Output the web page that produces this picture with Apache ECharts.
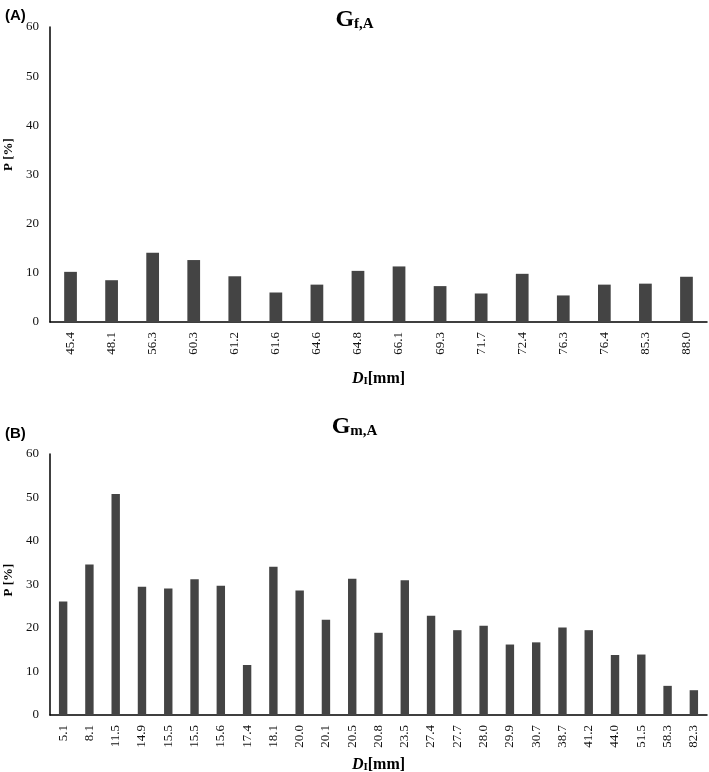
<!DOCTYPE html>
<html>
<head>
<meta charset="utf-8">
<script src="https://cdn.jsdelivr.net/npm/echarts@6/dist/echarts.min.js"></script>
<style>
html,body{margin:0;padding:0;background:#fff;}
#chart{width:709px;height:772px;}
</style>
</head>
<body>
<div id="chart"></div>
<script>
// Panel A: G_f,A
const categoriesA = ['45.4','48.1','56.3','60.3','61.2','61.6','64.6','64.8','66.1','69.3','71.7','72.4','76.3','76.4','85.3','88.0'];
const valuesA = [10.2, 8.5, 14.1, 12.6, 9.3, 6.0, 7.6, 10.4, 11.3, 7.3, 5.8, 9.8, 5.4, 7.6, 7.8, 9.2];
// Panel B: G_m,A
const categoriesB = ['5.1','8.1','11.5','14.9','15.5','15.5','15.6','17.4','18.1','20.0','20.1','20.5','20.8','23.5','27.4','27.7','28.0','29.9','30.7','38.7','41.2','44.0','51.5','58.3','82.3'];
const valuesB = [26.1, 34.6, 50.8, 29.5, 29.1, 31.2, 29.7, 11.5, 34.1, 28.6, 21.9, 31.3, 18.9, 31.0, 22.8, 19.5, 20.5, 16.2, 16.7, 20.1, 19.5, 13.8, 13.9, 6.7, 5.7];
// Axis ticks
const yTicks = {min: 0, max: 60, interval: 10};

const serif = '"Liberation Serif", "DejaVu Serif", serif';
const sans = '"Liberation Sans", Arial, sans-serif';
const barColor = '#444444';

const chart = echarts.init(document.getElementById('chart'), null, {renderer: 'canvas'});

function titleRich() {
  return {
    g: {fontFamily: serif, fontWeight: 'bold', fontSize: 24, color: '#000', verticalAlign: 'bottom', lineHeight: 26},
    s: {fontFamily: serif, fontWeight: 'bold', fontSize: 15, color: '#000', verticalAlign: 'bottom', lineHeight: 20, padding: [6, 0, 0, 0]}
  };
}
function xNameRich() {
  return {
    d: {fontFamily: serif, fontWeight: 'bold', fontStyle: 'italic', fontSize: 16, color: '#000', verticalAlign: 'bottom', lineHeight: 18},
    s: {fontFamily: serif, fontWeight: 'bold', fontSize: 11, color: '#000', verticalAlign: 'bottom', lineHeight: 14, padding: [4, 0, 0, 0]},
    n: {fontFamily: serif, fontWeight: 'bold', fontSize: 16, color: '#000', verticalAlign: 'bottom', lineHeight: 18}
  };
}

function xAxisFor(cats, idx, gap) {
  return {
    type: 'category',
    gridIndex: idx,
    data: cats,
    axisLine: {lineStyle: {color: '#000', width: 1.5}},
    axisTick: {show: false},
    axisLabel: {rotate: 90, interval: 0, margin: 10, fontFamily: serif, fontSize: 13, color: '#111'},
    name: '{d|D}{s|I}{n|[mm]}',
    nameLocation: 'middle',
    nameGap: gap,
    nameTextStyle: {rich: xNameRich()}
  };
}
function yAxisFor(idx, pad) {
  return {
    type: 'value',
    gridIndex: idx,
    min: yTicks.min, max: yTicks.max, interval: yTicks.interval,
    axisLine: {show: true, lineStyle: {color: '#000', width: 1.5}},
    axisTick: {show: false},
    splitLine: {show: false},
    axisLabel: {fontFamily: serif, fontSize: 13, color: '#111', margin: 11},
    name: 'P [%]',
    nameLocation: 'middle',
    nameGap: 33,
    nameTextStyle: {fontFamily: serif, fontWeight: 'bold', fontSize: 13, color: '#000', padding: [0, 0, 0, pad]}
  };
}

chart.setOption({
  animation: false,
  backgroundColor: '#fff',
  title: [
    {text: '{g|G}{s|f,A}', left: 'center', top: 1, textStyle: {rich: titleRich()}},
    {text: '{g|G}{s|m,A}', left: 'center', top: 408, textStyle: {rich: titleRich()}},
    {text: '(A)', left: 0, top: 3, textStyle: {fontFamily: sans, fontWeight: 'bold', fontSize: 15, color: '#000'}},
    {text: '(B)', left: 0, top: 421, textStyle: {fontFamily: sans, fontWeight: 'bold', fontSize: 15, color: '#000'}}
  ],
  grid: [
    {left: 50, right: 2, top: 27, height: 295, outerBoundsMode: 'none', containLabel: false},
    {left: 50, right: 2, top: 454, height: 261, outerBoundsMode: 'none', containLabel: false}
  ],
  xAxis: [xAxisFor(categoriesA, 0, 47), xAxisFor(categoriesB, 1, 40)],
  yAxis: [yAxisFor(0, 40), yAxisFor(1, 9)],
  series: [
    {type: 'bar', xAxisIndex: 0, yAxisIndex: 0, data: valuesA, barWidth: '31%', itemStyle: {color: barColor}},
    {type: 'bar', xAxisIndex: 1, yAxisIndex: 1, data: valuesB, barWidth: '32%', itemStyle: {color: barColor}}
  ]
});
</script>
</body>
</html>
